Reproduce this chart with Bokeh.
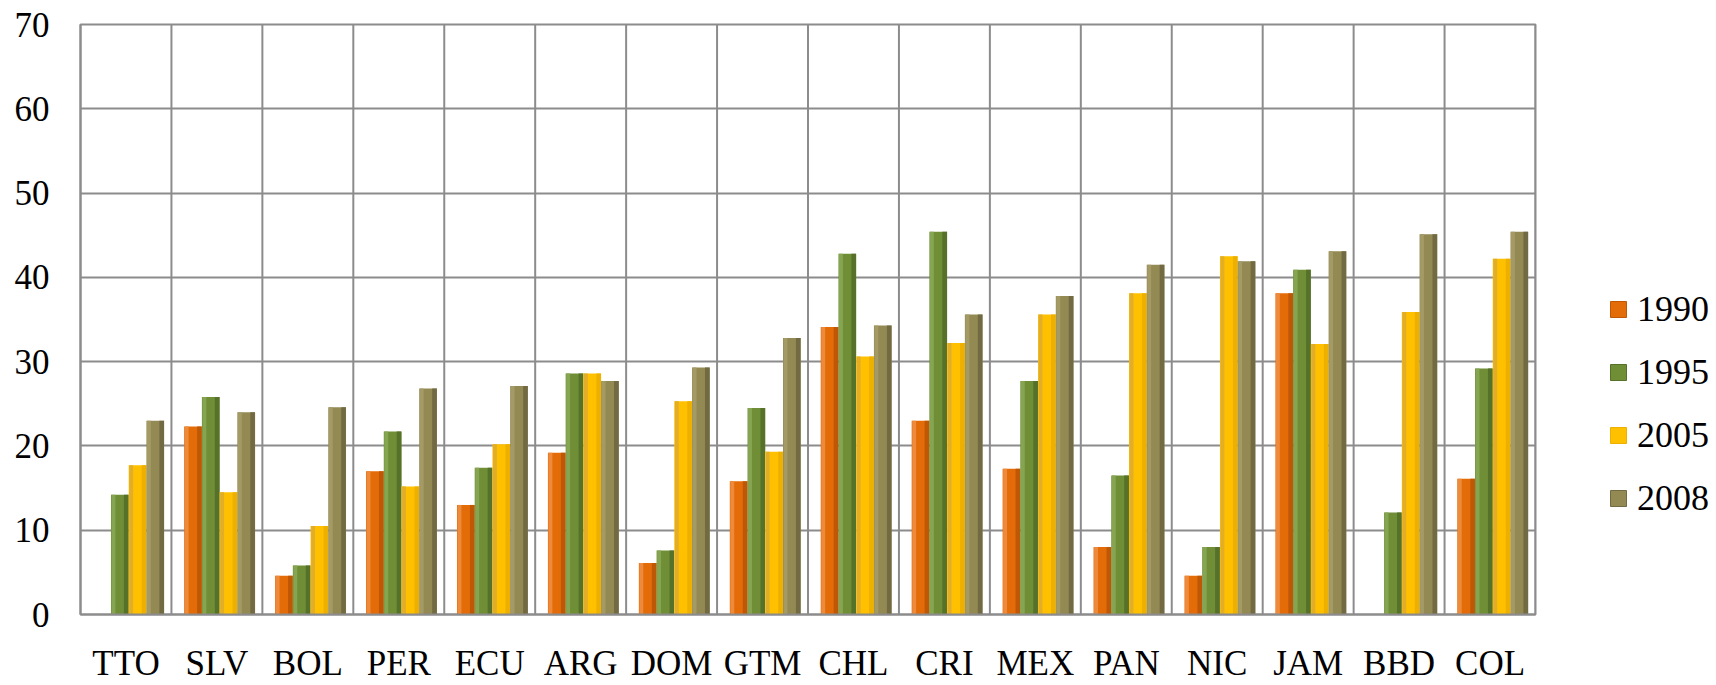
from bokeh.plotting import figure
from bokeh.layouts import row
from bokeh.models import FactorRange, Range1d, FixedTicker, Legend, LegendItem, ColumnDataSource
from bokeh.transform import dodge
from bokeh.embed import file_html
from bokeh.resources import INLINE

nan = float("nan")

categories = ["TTO", "SLV", "BOL", "PER", "ECU", "ARG", "DOM", "GTM",
              "CHL", "CRI", "MEX", "PAN", "NIC", "JAM", "BBD", "COL"]
series_names = ["1990", "1995", "2005", "2008"]
v1990 = [nan, 22.3, 4.6, 17.0, 13.0, 19.2, 6.1, 15.8, 34.1, 23.0, 17.3, 8.0, 4.6, 38.1, nan, 16.1]
v1995 = [14.2, 25.8, 5.8, 21.7, 17.4, 28.6, 7.6, 24.5, 42.8, 45.4, 27.7, 16.5, 8.0, 40.9, 12.1, 29.2]
v2005 = [17.7, 14.5, 10.5, 15.2, 20.2, 28.6, 25.3, 19.3, 30.6, 32.2, 35.6, 38.1, 42.5, 32.1, 35.9, 42.2]
v2008 = [23.0, 24.0, 24.6, 26.8, 27.1, 27.7, 29.3, 32.8, 34.3, 35.6, 37.8, 41.5, 41.9, 43.1, 45.1, 45.4]
y_ticks = [0, 10, 20, 30, 40, 50, 60, 70]

# styling
main_colors = ["#E36C09", "#6F8E36", "#FFC000", "#938953"]
light_colors = ["#EE8A3C", "#86A552", "#E2AE2A", "#A49A66"]
dark_colors = ["#BF5806", "#56712A", "#EDB000", "#726A43"]
grid_color = "#8C8C8C"
font = "Liberation Serif"
bar_w = 0.195
offsets = [0.03 + (i - 1.5) * bar_w for i in range(4)]

src = ColumnDataSource(dict(cat=categories, s1990=v1990, s1995=v1995, s2005=v2005, s2008=v2008))
cols = ["s1990", "s1995", "s2005", "s2008"]

p = figure(x_range=FactorRange(*categories), y_range=Range1d(0, 70),
           width=1540, height=685, output_backend="svg", toolbar_location=None,
           min_border_left=80, min_border_right=5, min_border_top=24, min_border_bottom=69)
p.background_fill_color = "white"
p.border_fill_color = "white"
p.outline_line_color = grid_color
p.outline_line_width = 2

# vertical category separators
p.segment(x0=dodge("cat", 0.5, range=p.x_range), y0=0,
          x1=dodge("cat", 0.5, range=p.x_range), y1=70,
          source=src, line_color=grid_color, line_width=2)

for i, c in enumerate(cols):
    p.vbar(x=dodge("cat", offsets[i], range=p.x_range), top=c, width=bar_w,
           source=src, fill_color=main_colors[i], line_color=None)
    p.vbar(x=dodge("cat", offsets[i] - bar_w * 0.36, range=p.x_range), top=c, width=bar_w * 0.22,
           source=src, fill_color=light_colors[i], line_color=None)
    p.vbar(x=dodge("cat", offsets[i] + bar_w * 0.36, range=p.x_range), top=c, width=bar_w * 0.26,
           source=src, fill_color=dark_colors[i], line_color=None)

p.xgrid.grid_line_color = None
p.ygrid.grid_line_color = grid_color
p.ygrid.grid_line_width = 2
p.yaxis.ticker = FixedTicker(ticks=y_ticks)

for ax in (p.xaxis[0], p.yaxis[0]):
    ax.axis_line_color = grid_color
    ax.axis_line_width = 2
    ax.major_tick_line_color = None
    ax.minor_tick_line_color = None
    ax.major_tick_out = 0
    ax.major_tick_in = 0
    ax.minor_tick_out = 0
    ax.major_label_text_font = font
    ax.major_label_text_color = "black"

p.xaxis.major_label_text_font_size = "35px"
p.xaxis.major_label_standoff = 29
p.yaxis.major_label_text_font_size = "35px"
p.yaxis.major_label_standoff = 31

# legend panel (separate figure to the right; its renderers are hidden, only the legend shows)
lp = figure(width=176, height=685, x_range=FactorRange(*categories), y_range=Range1d(-2, -1),
            x_axis_type=None, y_axis_type=None, output_backend="svg", toolbar_location=None,
            min_border=0)
lp.outline_line_color = None
lp.background_fill_color = "white"
lp.border_fill_color = "white"
lp.xgrid.grid_line_color = None
lp.ygrid.grid_line_color = None
leg_renderers = [lp.vbar(x="cat", top=c, width=0.1, source=src, visible=False,
                         fill_color=main_colors[i], line_color=dark_colors[i], line_width=1)
                 for i, c in enumerate(cols)]
legend = Legend(items=[LegendItem(label=n, renderers=[r]) for n, r in zip(series_names, leg_renderers)],
                location=(68, 95), padding=0, margin=0, spacing=21, label_height=42,
                glyph_width=20, glyph_height=20, label_standoff=9,
                label_text_font_size="36px", label_text_font=font, label_text_color="black",
                border_line_color=None, background_fill_alpha=0)
lp.add_layout(legend)

layout = row(p, lp)
open("out.html", "w").write(file_html(layout, INLINE))
